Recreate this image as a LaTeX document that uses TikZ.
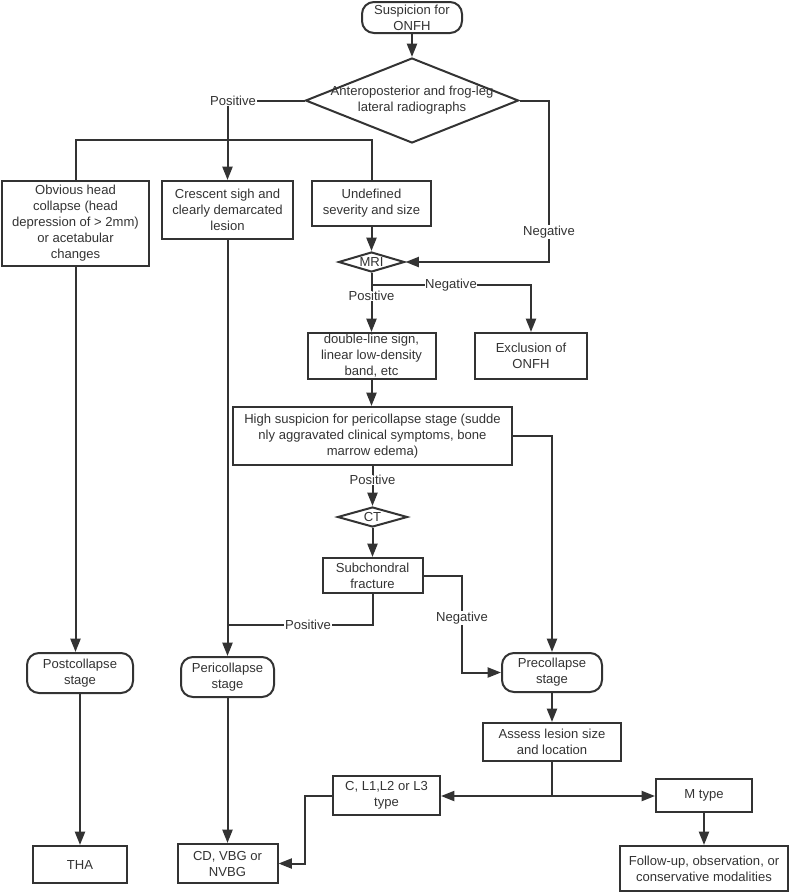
\documentclass[tikz,border=0pt]{standalone}
\usepackage{fontspec}
\setmainfont{Liberation Sans}
\usetikzlibrary{shapes.geometric,arrows.meta}
\newdimen\pxu
\pxu=0.75pt
\definecolor{ln}{HTML}{333333}
\definecolor{tx}{HTML}{333333}
\begin{document}
\begin{tikzpicture}[x=0.75pt,y=-0.75pt,
  every node/.style={font=\fontsize{9.8}{12}\selectfont, text=tx},
  box/.style={draw=ln, line width=1.5pt, align=center, inner sep=1pt},
  term/.style={box, rounded corners=9pt},
  dia/.style={draw=ln, line width=1.5pt, diamond, inner sep=0pt},
  lbl/.style={fill=white, inner sep=0.5pt},
  conn/.style={draw=ln, line width=1.5pt},
  arr/.style={conn, -{Triangle[length=10pt,width=7.5pt]}}]
\useasboundingbox (0,0) rectangle (789,894);

% nodes
\node[term, minimum width=100\pxu, minimum height=31\pxu] (start) at (412,17.5) {Suspicion for\\ONFH};
\node[dia, minimum width=213\pxu, minimum height=85\pxu] (xray) at (412,100.5) {};
\node[align=center] (xrayt) at (xray.center) {Anteroposterior and frog-leg\\lateral radiographs};
\node[box, minimum width=147\pxu, minimum height=85\pxu] (obv) at (75.5,223.5) {Obvious head\\collapse (head\\depression of > 2mm)\\or acetabular\\changes};
\node[box, minimum width=131\pxu, minimum height=58\pxu] (cres) at (227.5,210) {Crescent sigh and\\clearly demarcated\\lesion};
\node[box, minimum width=119\pxu, minimum height=45\pxu] (undef) at (371.5,203.5) {Undefined\\severity and size};
\node[dia, minimum width=66\pxu, minimum height=20\pxu] (mri) at (371.5,262) {};
\node (mrit) at (mri.center) {MRI};
\node[box, minimum width=128\pxu, minimum height=46\pxu] (dbl) at (371.5,356) {double-line sign,\\linear low-density\\band, etc};
\node[box, minimum width=112\pxu, minimum height=46\pxu] (excl) at (531,356) {Exclusion of\\ONFH};
\node[box, minimum width=279\pxu, minimum height=58\pxu] (high) at (372.5,436) {High suspicion for pericollapse stage (sudde\\nly aggravated clinical symptoms, bone\\marrow edema)};
\node[dia, minimum width=70\pxu, minimum height=20\pxu] (ct) at (372.5,517) {};
\node (ctt) at (ct.center) {CT};
\node[box, minimum width=100\pxu, minimum height=35\pxu] (sub) at (372.5,575.5) {Subchondral\\fracture};
\node[term, minimum width=106\pxu, minimum height=40\pxu] (post) at (80,673) {Postcollapse\\stage};
\node[term, minimum width=93\pxu, minimum height=40\pxu] (peri) at (227.5,677) {Pericollapse\\stage};
\node[term, minimum width=100\pxu, minimum height=39\pxu] (pre) at (552,672.5) {Precollapse\\stage};
\node[box, minimum width=138\pxu, minimum height=38\pxu] (assess) at (552,742) {Assess lesion size\\and location};
\node[box, minimum width=107\pxu, minimum height=39\pxu] (cl) at (386.5,795.5) {C, L1,L2 or L3\\type};
\node[box, minimum width=96\pxu, minimum height=33\pxu] (mtype) at (704,795.5) {M type};
\node[box, minimum width=94\pxu, minimum height=37\pxu] (tha) at (80,864.5) {THA};
\node[box, minimum width=100\pxu, minimum height=39\pxu] (cd) at (227.5,863.5) {CD, VBG or\\NVBG};
\node[box, minimum width=168\pxu, minimum height=45\pxu] (fu) at (704,868.5) {Follow-up, observation, or\\conservative modalities};

% junction coordinates
\coordinate (bar) at (228,140);
\coordinate (rneg) at (549,262);
\coordinate (mj) at (371.5,285);
\coordinate (sneg) at (462,575.5);
\coordinate (pj) at (227.5,625);
\coordinate (aj) at (552,796);
\coordinate (cj) at (305,795.5);

% connectors
\draw[arr] (start) -- (xray.north);
\draw[arr] (xray.west) -| (cres.north);
\draw[conn] (obv.north) |- (bar) -| (undef.north);
\draw[arr] (xray.east) -| (rneg) -- (mri.east);
\draw[arr] (undef) -- (mri.north);
\draw[conn] (mri.south) -- (mj);
\draw[arr] (mj) -| (excl.north);
\draw[arr] (mj) -- (dbl.north);
\draw[arr] (dbl.south) -- (dbl.south |- high.north);
\draw[arr] (high.east) -| (pre.north);
\draw[arr] (high) -- (ct.north);
\draw[arr] (ct.south) -- (sub);
\draw[arr] (sub.east) -- (sneg) |- (pre.west);
\draw[conn] (sub.south) |- (pj);
\draw[arr] (cres) -- (peri);
\draw[arr] (obv.south) -- (obv.south |- post.north);
\draw[arr] (post) -- (tha);
\draw[arr] (peri) -- (cd);
\draw[arr] (pre) -- (assess);
\draw[conn] (assess.south) -- (aj);
\draw[arr] (aj) -- (cl.east |- aj);
\draw[arr] (aj) -- (mtype.west |- aj);
\draw[arr] (mtype) -- (fu);
\draw[arr] (cl.west) -- (cj) |- (cd.east);

% labels
\node[lbl] (lpos1) at (233,101) {Positive};
\node[lbl] (lneg1) at (549,232) {Negative};
\node[lbl] (lneg2) at (451,285) {Negative};
\node[lbl] (lpos2) at (371.5,296) {Positive};
\node[lbl] (lpos3) at (372.5,480) {Positive};
\node[lbl] (lneg3) at (462,618) {Negative};
\node[lbl] (lpos4) at (308,625) {Positive};
\end{tikzpicture}
\end{document}
